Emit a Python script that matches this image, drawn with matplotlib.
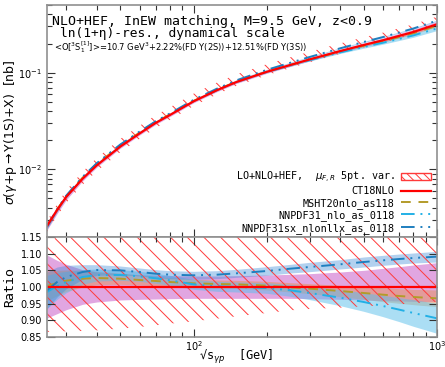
import numpy as np
import matplotlib
matplotlib.use("Agg")
import matplotlib.pyplot as plt
from matplotlib.patches import Patch
from matplotlib.lines import Line2D

# ---------------- data ----------------
sqrt_s = [25, 27.5, 30, 35, 40, 50, 60, 70, 80, 100, 125, 150, 200, 250, 300, 400, 500, 600, 700, 800, 1000]
# CT18NLO central cross section [nb]
sigma_ct18 = [0.0026, 0.0038, 0.0052, 0.0080, 0.0110, 0.0172, 0.0235, 0.0303, 0.0365, 0.0505, 0.066, 0.080,
              0.102, 0.120, 0.137, 0.167, 0.193, 0.216, 0.240, 0.263, 0.316]
# scale-variation band (ratio to CT18NLO central)
scale_lo = [0.865, 0.866, 0.867, 0.868, 0.870, 0.875, 0.880, 0.885, 0.890, 0.897, 0.905, 0.912, 0.922, 0.930,
            0.934, 0.938, 0.942, 0.945, 0.948, 0.951, 0.956]
scale_hi = [1.13, 1.15, 1.17, 1.18, 1.19, 1.20, 1.20, 1.20, 1.20, 1.20, 1.20, 1.20, 1.20, 1.20, 1.20, 1.20,
            1.20, 1.20, 1.20, 1.20, 1.20]
# CT18NLO PDF band (ratio)
ct18_lo = [0.907, 0.920, 0.932, 0.948, 0.955, 0.961, 0.963, 0.964, 0.965, 0.966, 0.966, 0.966, 0.966, 0.966,
           0.965, 0.963, 0.961, 0.959, 0.958, 0.957, 0.955]
ct18_hi = [1.096, 1.080, 1.068, 1.052, 1.045, 1.040, 1.037, 1.035, 1.034, 1.033, 1.033, 1.034, 1.036, 1.038,
           1.040, 1.045, 1.050, 1.056, 1.061, 1.066, 1.073]
# MSHT20nlo_as118 (ratio)
msht_c = [1.003, 1.012, 1.019, 1.025, 1.027, 1.025, 1.021, 1.018, 1.015, 1.011, 1.009, 1.008, 1.004, 0.999,
          0.995, 0.988, 0.982, 0.977, 0.973, 0.970, 0.966]
msht_w = [0.045, 0.038, 0.032, 0.025, 0.020, 0.017, 0.015, 0.014, 0.013, 0.012, 0.012, 0.012, 0.013, 0.014,
          0.015, 0.017, 0.019, 0.021, 0.022, 0.023, 0.025]
# NNPDF31_nlo_as_0118 (ratio)
nn31_c = [0.985, 1.003, 1.015, 1.030, 1.036, 1.036, 1.032, 1.026, 1.020, 1.008, 1.002, 1.000, 0.997, 0.990,
          0.982, 0.968, 0.955, 0.943, 0.932, 0.922, 0.906]
nn31_w = [0.050, 0.040, 0.032, 0.022, 0.018, 0.016, 0.015, 0.015, 0.015, 0.015, 0.015, 0.015, 0.016, 0.018,
          0.020, 0.024, 0.028, 0.032, 0.036, 0.040, 0.045]
# NNPDF31sx_nlonllx_as_0118 (ratio)
nnsx_c = [0.990, 1.015, 1.030, 1.045, 1.051, 1.050, 1.045, 1.040, 1.037, 1.035, 1.037, 1.041, 1.048, 1.055,
          1.060, 1.068, 1.075, 1.080, 1.084, 1.087, 1.091]
nnsx_w = [0.055, 0.045, 0.035, 0.022, 0.016, 0.013, 0.012, 0.012, 0.012, 0.012, 0.012, 0.012, 0.013, 0.013,
          0.014, 0.014, 0.015, 0.015, 0.015, 0.015, 0.016]

labels = ["CT18NLO", "MSHT20nlo_as118", "NNPDF31_nlo_as_0118", "NNPDF31sx_nlonllx_as_0118"]
band_label = r"LO+NLO+HEF,  $\mu_{F,R}$ 5pt. var."

# ---------------- style ----------------
plt.rcParams['hatch.linewidth'] = 0.7
MONO = 'DejaVu Sans Mono'
c_red = '#ff0000'
c_msht = '#b39b2a'
c_nn31 = '#22b0e6'
c_nnsx = '#1f7fbf'
b_ct18 = (0.80, 0.40, 0.80, 0.58)
b_msht = (0.90, 0.55, 0.20, 0.40)
b_nn31 = (0.35, 0.75, 0.92, 0.50)
b_nnsx = (0.25, 0.55, 0.85, 0.40)
hatch_col = '#ff3a3a'

x = np.array(sqrt_s)
sig = np.array(sigma_ct18)

fig = plt.figure(figsize=(4.45, 3.67), dpi=100)
ax1 = fig.add_axes([47/445, 1-237/367, 390/445, 232/367])
ax2 = fig.add_axes([47/445, 1-337/367, 390/445, 100/367], sharex=ax1)

def draw(ax, scale):
    s = scale
    ax.fill_between(x, s*np.array(ct18_lo), s*np.array(ct18_hi), color=b_ct18, lw=0)
    ax.fill_between(x, s*(np.array(msht_c)-msht_w), s*(np.array(msht_c)+msht_w), color=b_msht, lw=0)
    ax.fill_between(x, s*(np.array(nn31_c)-nn31_w), s*(np.array(nn31_c)+nn31_w), color=b_nn31, lw=0)
    ax.fill_between(x, s*(np.array(nnsx_c)-nnsx_w), s*(np.array(nnsx_c)+nnsx_w), color=b_nnsx, lw=0)
    ax.fill_between(x, s*np.array(scale_lo), s*np.array(scale_hi), facecolor='none',
                    edgecolor=hatch_col, hatch='\\\\', lw=0)
    ax.plot(x, s*np.array(msht_c), color=c_msht, lw=1.4, ls=(0, (5, 4)))
    ax.plot(x, s*np.array(nn31_c), color=c_nn31, lw=1.4, ls=(0, (7, 3, 1, 3, 1, 3)))
    ax.plot(x, s*np.array(nnsx_c), color=c_nnsx, lw=1.4, ls=(0, (7, 3, 1, 3, 1, 3)))
    ax.plot(x, s*np.ones_like(x, dtype=float), color=c_red, lw=1.6)

draw(ax1, sig)
draw(ax2, 1.0)

ax1.set_xscale('log')
ax1.set_yscale('log')
ax1.set_xlim(25, 1000)
ax1.set_ylim(0.002, 0.5)
ax2.set_ylim(0.85, 1.15)
ax2.set_yticks([0.85, 0.90, 0.95, 1.00, 1.05, 1.10, 1.15])
ax2.set_yticklabels(['0.85', '0.90', '0.95', '1.00', '1.05', '1.10', '1.15'])

for ax in (ax1, ax2):
    for sp in ax.spines.values():
        sp.set_color('#909090')
        sp.set_linewidth(1.2)
    ax.tick_params(which='both', direction='in', top=True, right=True, colors='#333333',
                   labelsize=7, pad=3.5)
    ax.tick_params(which='major', length=6, width=0.8)
    ax.tick_params(which='minor', length=3.5, width=0.8)
    ax.tick_params(which='both', labelcolor='black')
ax2.tick_params(axis='y', which='minor', left=False, right=False)
ax1.tick_params(axis='x', labelbottom=False)
ax2.tick_params(axis='x', pad=1.5)

ax1.set_ylabel(r'$\sigma$($\gamma$+p$\rightarrow\Upsilon$(1S)+X)  [nb]', fontsize=9)
ax2.set_ylabel('Ratio', fontsize=9.5, family=MONO)
ax2.set_xlabel(r'√s$_{\gamma p}$  [GeV]', fontsize=8.6, family=MONO)
ax1.yaxis.set_label_coords(-0.073, 0.45)
ax2.yaxis.set_label_coords(-0.079, 0.5)
ax2.xaxis.set_label_coords(0.485, -0.294)
ax2.xaxis.label.set_va('bottom')

ax1.text(0.012, 0.914, 'NLO+HEF, InEW matching, M=9.5 GeV, z<0.9', transform=ax1.transAxes,
         fontsize=9.5, family=MONO, va='baseline', ha='left')
ax1.text(0.033, 0.861, 'ln(1+η)-res., dynamical scale', transform=ax1.transAxes,
         fontsize=9.3, family=MONO, va='baseline', ha='left')
ax1.text(0.018, 0.805, r'<O[$^3$S$_1^{[1]}$]>=10.7 GeV$^3$+2.22%(FD $\Upsilon$(2S))+12.51%(FD $\Upsilon$(3S))',
         transform=ax1.transAxes, fontsize=6.0, va='baseline', ha='left')

handles = [
    Patch(facecolor='white', edgecolor=hatch_col, hatch='\\\\\\\\', lw=1.0),
    Line2D([], [], color=c_red, lw=1.6),
    Line2D([], [], color=c_msht, lw=1.4, ls=(0, (5, 4))),
    Line2D([], [], color=c_nn31, lw=1.4, ls=(0, (7, 3, 1, 3, 1, 3))),
    Line2D([], [], color=c_nnsx, lw=1.4, ls=(0, (7, 3, 1, 3, 1, 3))),
]
leg = ax1.legend(handles, [band_label] + labels, loc='lower right', bbox_to_anchor=(0.985, 0.015),
                 frameon=False, markerfirst=False, prop={'family': MONO, 'size': 7.3},
                 handlelength=3.0, handleheight=0.8, handletextpad=0.6, labelspacing=0.15,
                 borderpad=0, borderaxespad=0)

fig.savefig('out.png', dpi=100)
